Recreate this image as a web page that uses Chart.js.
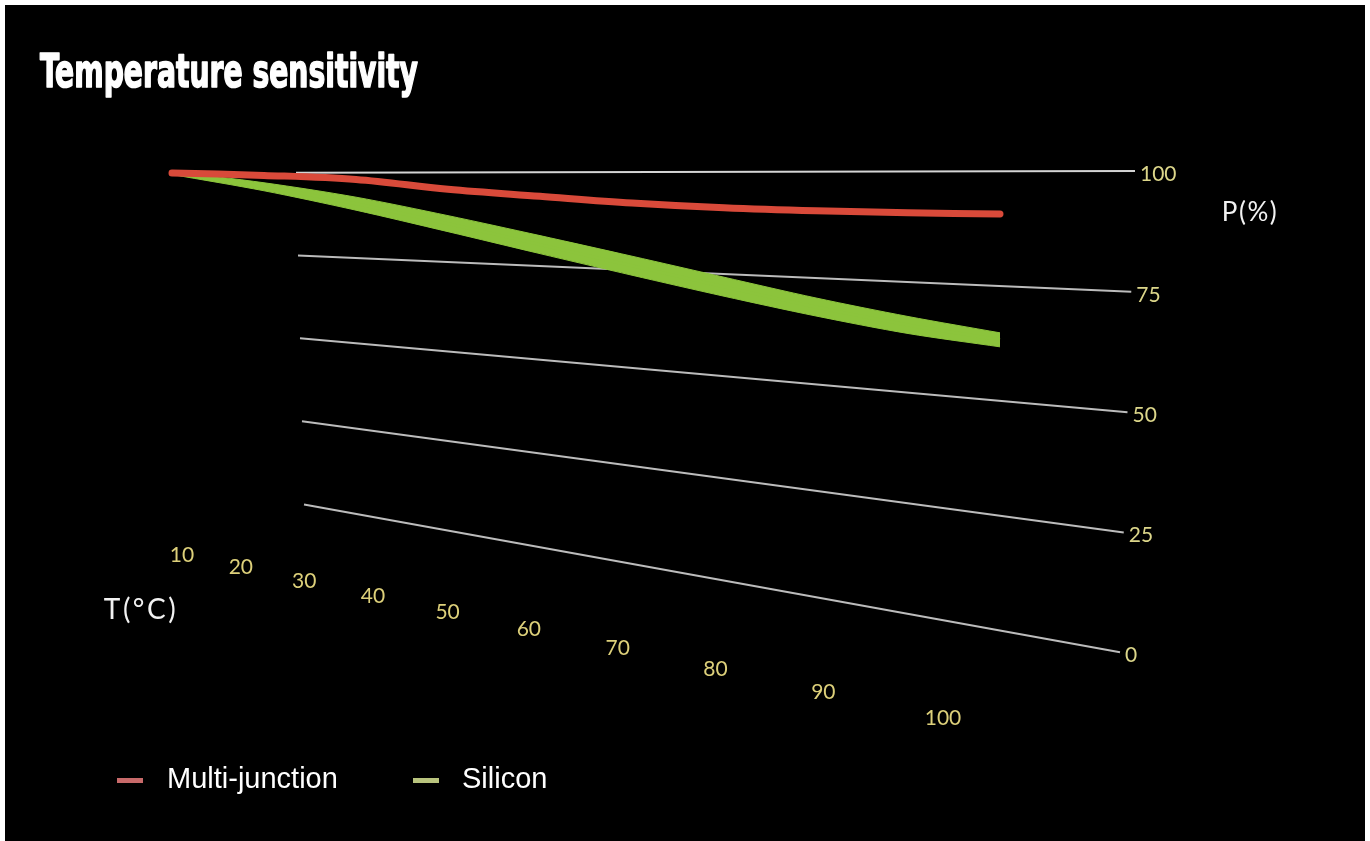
<!DOCTYPE html>
<html>
<head>
<meta charset="utf-8">
<title>Temperature sensitivity</title>
<script src="https://cdn.jsdelivr.net/npm/chart.js@4.4.1/dist/chart.umd.min.js"></script>
<style>
  html, body { margin: 0; padding: 0; background: #000000; overflow: hidden; }
  #wrap { position: relative; width: 1370px; height: 841px; }
  canvas { display: block; }
</style>
</head>
<body>
<div id="wrap"><canvas id="chart" width="1370" height="841"></canvas></div>
<script>
// ---------------- data ----------------
const temperatures = [10, 20, 30, 40, 50, 60, 70, 80, 90, 100];
const multiJunction = [100, 99.2, 98.0, 95.3, 93.6, 92.1, 91.2, 90.8, 90.7, 90.7];
const silicon = [100, 95.7, 90.9, 85.7, 80.7, 76.1, 71.9, 68.2, 65.3, 63.3];
const powerTicks = [0, 25, 50, 75, 100];
const temperatureTickLabels = ['10', '20', '30', '40', '50', '60', '70', '80', '90', '100'];
const seriesNames = ['Multi-junction', 'Silicon'];
const titleText = 'Temperature sensitivity';
const xAxisTitle = 'T(°C)';
const yAxisTitle = 'P(%)';

// ---------------- view / perspective layout ----------------
const W = 1370, H = 841;
const X0 = 172, XS = 9.2;   // screen origin and px per °C of the data plane
const Y0 = 173, YS = 4.82;  // screen y of P=100 and px per % at the back wall
const view = {
  topDrift: -0.002, kLeft: 3.31, kSlope: 0.00183, kRefX: 300,
  gridLeft: p => 304 - 0.08 * p,
  gridRight: p => 1120 + 0.15 * p,
  floorX0: 182, floorX1: 943, floorBend: 0.33, floorY0: 555, floorSlope: 0.2142
};
function toUnits(px, py) { return { x: 10 + (px - X0) / XS, y: 100 - (py - Y0) / YS }; }
function projectAt(px, p, dy) {
  const top = Y0 + view.topDrift * (px - X0);
  const k = view.kLeft + view.kSlope * (px - view.kRefX);
  return toUnits(px, top + (100 - p) * k + (dy || 0));
}
function seriesPoint(t, p, dy) { return projectAt(X0 + (t - 10) * XS, p, dy); }
function floorPoint(t) {
  const s = (t - temperatures[0]) / (temperatures[temperatures.length - 1] - temperatures[0]);
  const b = view.floorBend;
  const u = s * (1 - b) / (1 - b * s);
  const fx = view.floorX0 + (view.floorX1 - view.floorX0) * u;
  const fy = view.floorY0 + view.floorSlope * (fx - view.floorX0);
  return toUnits(fx, fy);
}

const seriesColors = ['#d94a3a', '#8cc43c'];
const legendColors = ['#c86a6a', '#b9c47e'];
// half-thickness (px) of the silicon ribbon at each point
const ribbonHalf = [1.5, 4, 6.5, 8, 9, 9.5, 9.5, 9, 8.5, 7];

const datasets = [
  {
    label: seriesNames[0],
    data: temperatures.map((t, i) => seriesPoint(t, multiJunction[i])),
    borderColor: seriesColors[0],
    borderWidth: 7,
    borderCapStyle: 'round',
    tension: 0.35,
    showLine: true,
    pointRadius: 0
  },
  {
    label: seriesNames[1],
    data: temperatures.map((t, i) => seriesPoint(t, silicon[i])),
    borderColor: seriesColors[1],
    borderWidth: 3,
    tension: 0.3,
    showLine: true,
    pointRadius: 0
  },
  {
    label: 'silicon ribbon top',
    isHelper: true,
    data: temperatures.map((t, i) => seriesPoint(t, silicon[i], -ribbonHalf[i])),
    borderColor: seriesColors[1],
    borderWidth: 1,
    backgroundColor: seriesColors[1],
    fill: '+1',
    tension: 0.3,
    showLine: true,
    pointRadius: 0
  },
  {
    label: 'silicon ribbon bottom',
    isHelper: true,
    data: temperatures.map((t, i) => seriesPoint(t, silicon[i], ribbonHalf[i])),
    borderColor: seriesColors[1],
    borderWidth: 1,
    tension: 0.3,
    showLine: true,
    pointRadius: 0
  }
];
powerTicks.forEach(p => {
  datasets.push({
    label: 'grid ' + p,
    isHelper: true,
    data: [projectAt(view.gridLeft(p), p), projectAt(view.gridRight(p), p)],
    borderColor: p === 100 ? '#d4d4d4' : '#bcbcbc',
    borderWidth: 2,
    showLine: true,
    pointRadius: 0,
    tension: 0
  });
});

const scenePlugin = {
  id: 'scene',
  beforeDraw(chart) {
    const c = chart.ctx;
    c.save();
    c.fillStyle = '#ffffff';
    c.fillRect(0, 0, W, H);
    c.fillStyle = '#000000';
    c.fillRect(5, 5, 1360, H);
    c.restore();
  },
  afterDatasetsDraw(chart) {
    const c = chart.ctx;
    const xs = chart.scales.x, ys = chart.scales.y;
    const px = v => xs.getPixelForValue(v), py = v => ys.getPixelForValue(v);
    c.save();
    // right-hand P tick labels
    c.font = '21px Lato, "Open Sans", sans-serif';
    c.fillStyle = '#dcd68a';
    c.textAlign = 'left';
    c.textBaseline = 'middle';
    powerTicks.forEach(p => {
      const e = projectAt(view.gridRight(p), p);
      c.fillText(String(p), px(e.x) + 5, py(e.y) + 3);
    });
    // floor T labels
    c.textAlign = 'center';
    c.fillStyle = '#ddd07a';
    temperatures.forEach((t, i) => {
      const f = floorPoint(t);
      c.fillText(temperatureTickLabels[i], px(f.x), py(f.y));
    });
    // axis titles
    c.fillStyle = '#f2f2f2';
    c.font = '26px Lato, "Open Sans", sans-serif';
    if ('letterSpacing' in c) c.letterSpacing = '1.5px';
    const pt = toUnits(1250, 213);
    c.fillText(yAxisTitle, px(pt.x), py(pt.y));
    c.font = '28px Lato, "Open Sans", sans-serif';
    if ('letterSpacing' in c) c.letterSpacing = '2.5px';
    const tt = toUnits(141, 610);
    c.fillText(xAxisTitle, px(tt.x), py(tt.y));
    if ('letterSpacing' in c) c.letterSpacing = '0px';
    // legend
    c.font = '29px "Liberation Sans", Arial, sans-serif';
    c.textAlign = 'left';
    const legendX = [117, 413], textX = [167, 462];
    chart.data.datasets.filter(d => !d.isHelper).forEach((d, i) => {
      c.fillStyle = legendColors[i];
      c.fillRect(legendX[i], 778, 26, 5);
      c.fillStyle = '#ffffff';
      c.fillText(d.label, textX[i], 780);
    });
    // title
    c.font = 'bold 46px "Liberation Sans Narrow", "DejaVu Sans Condensed", "Liberation Sans", sans-serif';
    c.textBaseline = 'alphabetic';
    const w = c.measureText(titleText).width;
    c.translate(40, 87);
    c.scale(378 / w, 1);
    c.fillStyle = '#ffffff';
    c.strokeStyle = '#ffffff';
    c.lineWidth = 1.6;
    c.lineJoin = 'round';
    c.fillText(titleText, 0, 0);
    c.strokeText(titleText, 0, 0);
    c.restore();
  }
};

new Chart(document.getElementById('chart'), {
  type: 'scatter',
  data: { datasets },
  options: {
    responsive: false,
    animation: false,
    layout: { padding: 0 },
    scales: {
      x: { type: 'linear', display: false, min: 10 - X0 / XS, max: 10 + (W - X0) / XS },
      y: { type: 'linear', display: false, min: 100 - (H - Y0) / YS, max: 100 + Y0 / YS }
    },
    plugins: {
      legend: { display: false },
      tooltip: { enabled: false },
      title: { display: false },
      filler: { propagate: false }
    }
  },
  plugins: [scenePlugin]
});
</script>
</body>
</html>
